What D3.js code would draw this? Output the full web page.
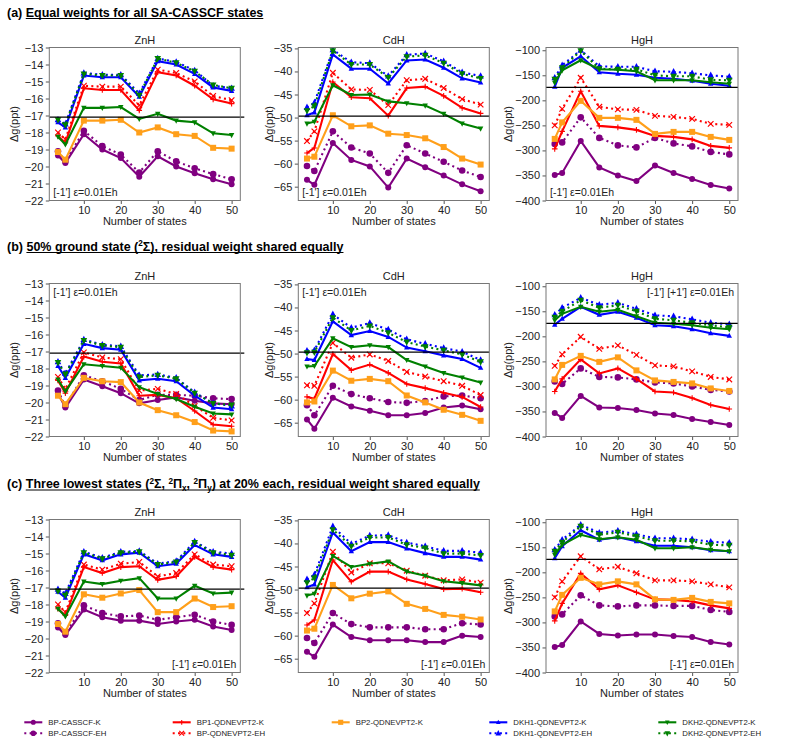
<!DOCTYPE html>
<html><head><meta charset="utf-8">
<script src="https://cdn.jsdelivr.net/npm/d3@7"></script>
<style>
body{margin:0;background:#fff;}
svg{display:block;font-family:"Liberation Sans",Arial,sans-serif;}
</style></head>
<body><svg id="c" width="793" height="742"></svg>
<script>
// ---------------- DATA ----------------
const nStates = [3,5,10,15,20,25,30,35,40,45,50];
const seriesNames = ["BP-CASSCF-K","BP-CASSCF-EH","BP1-QDNEVPT2-K","BP-QDNEVPT2-EH","BP2-QDNEVPT2-K","DKH1-QDNEVPT2-K","DKH1-QDNEVPT2-EH","DKH2-QDNEVPT2-K","DKH2-QDNEVPT2-EH"];
const molecules = ["ZnH","CdH","HgH"];
const yTicksZnH = [-13,-14,-15,-16,-17,-18,-19,-20,-21,-22];
const yTicksCdH = [-35,-40,-45,-50,-55,-60,-65];
const yTicksHgH = [-100,-150,-200,-250,-300,-350,-400];
const xTicks = [10,20,30,40,50];
const refValues = [-17.1,-49.7,-174];
const panelTitles = ["(a) |Equal weights for all SA-CASSCF states",
  "(b) |50% ground state (^2Σ), residual weight shared equally",
  "(c) |Three lowest states (^2Σ, ^2Π_x, ^2Π_y) at 20% each, residual weight shared equally"];
const annotations = [["[-1'] ε=0.01Eh","[-1'] ε=0.01Eh","[-1'] ε=0.01Eh"],
  ["[-1'] ε=0.01Eh","[-1'] ε=0.01Eh","[-1'] [+1'] ε=0.01Eh"],
  ["[-1'] ε=0.01Eh","[-1'] ε=0.01Eh","[-1'] ε=0.01Eh"]];

// series order: CASSCF-K, CASSCF-EH, BP1-K, BP-EH, BP2-K, DKH1-K, DKH1-EH, DKH2-K, DKH2-EH
const aZnH = [
 [-19.35,-19.8,-18.1,-19.0,-19.5,-20.6,-19.4,-20.0,-20.4,-20.75,-21.05],
 [-19.1,-19.7,-17.9,-18.8,-19.3,-20.35,-19.1,-19.7,-20.1,-20.45,-20.75],
 [-18.2,-18.6,-15.4,-15.5,-15.5,-16.7,-14.45,-14.65,-15.25,-16.05,-16.3],
 [-18.0,-18.4,-15.25,-15.3,-15.3,-16.4,-14.3,-14.5,-15.0,-15.85,-16.1],
 [-19.15,-19.6,-17.3,-17.3,-17.25,-18.0,-17.7,-18.1,-18.2,-18.9,-18.95],
 [-17.4,-17.7,-14.65,-14.75,-14.75,-15.9,-13.8,-14.0,-14.55,-15.35,-15.55],
 [-17.25,-17.5,-14.5,-14.6,-14.6,-15.7,-13.65,-13.85,-14.35,-15.25,-15.4],
 [-18.25,-18.7,-16.55,-16.55,-16.5,-17.2,-16.9,-17.3,-17.4,-18.05,-18.15],
 [-17.25,-17.55,-14.55,-14.65,-14.65,-15.8,-13.65,-13.9,-14.4,-15.2,-15.4]];
const aCdH = [
 [-63.5,-64.6,-55.5,-59.2,-60.6,-65.2,-58.9,-60.8,-62.6,-64.5,-66.0],
 [-60.5,-61.6,-53.0,-56.5,-57.8,-62.0,-56.0,-57.8,-59.6,-61.5,-62.9],
 [-57.7,-56.6,-42.3,-45.6,-45.8,-49.6,-43.6,-43.3,-45.3,-47.9,-49.1],
 [-55.1,-53.0,-40.3,-43.9,-44.0,-47.3,-41.9,-41.6,-43.6,-46.0,-47.2],
 [-58.9,-58.5,-49.5,-51.9,-51.7,-53.5,-53.8,-54.5,-56.4,-58.9,-60.2],
 [-49.5,-48.9,-36.3,-39.4,-39.4,-42.6,-37.6,-37.4,-39.2,-41.5,-42.4],
 [-47.8,-46.8,-35.3,-38.0,-38.2,-41.0,-36.4,-36.1,-37.8,-40.2,-41.0],
 [-51.3,-50.9,-43.0,-45.1,-45.0,-46.5,-46.9,-47.4,-49.2,-51.3,-52.4],
 [-48.5,-47.5,-35.5,-38.5,-38.5,-41.3,-36.8,-36.5,-38.2,-40.5,-41.5]];
const aHgH = [
 [-349,-345,-281,-334,-350,-361,-330,-345,-357,-369,-376],
 [-287,-284,-234,-275,-290,-294,-275,-286,-292,-303,-308],
 [-297,-262,-182,-251,-254,-259,-271,-273,-278,-291,-295],
 [-250,-217,-155,-213,-218,-219,-231,-233,-237,-247,-249],
 [-277,-244,-201,-235,-235,-239,-267,-263,-263,-273,-279],
 [-173,-135,-112,-144,-147,-149,-155,-157,-161,-167,-171],
 [-155,-130,-100,-132,-133,-133,-142,-143,-146,-150,-153],
 [-165,-140,-120,-138,-139,-142,-160,-160,-160,-164,-167],
 [-158,-135,-101,-137,-138,-138,-150,-152,-152,-159,-160]];
const bZnH = [
 [-19.45,-20.3,-18.65,-19.05,-19.45,-20.05,-19.85,-19.7,-19.9,-20.05,-20.1],
 [-19.3,-20.2,-18.4,-18.75,-19.2,-19.85,-19.55,-19.55,-19.6,-19.75,-19.8],
 [-18.7,-19.45,-17.3,-17.6,-17.7,-19.6,-19.55,-19.75,-20.5,-21.3,-21.4],
 [-18.5,-19.2,-17.05,-17.35,-17.45,-19.3,-19.2,-19.5,-20.2,-20.9,-21.05],
 [-19.6,-20.1,-18.55,-18.75,-18.8,-20.0,-20.45,-20.75,-21.15,-21.65,-21.7],
 [-17.85,-18.55,-16.55,-16.8,-16.9,-18.7,-18.6,-18.75,-19.6,-20.3,-20.4],
 [-17.6,-18.3,-16.3,-16.6,-16.7,-18.4,-18.35,-18.55,-19.4,-20.05,-20.2],
 [-18.65,-19.35,-17.75,-17.85,-17.95,-19.1,-19.5,-19.8,-20.25,-20.65,-20.7],
 [-17.65,-18.35,-16.35,-16.65,-16.75,-18.5,-18.4,-18.6,-19.45,-20.05,-20.15]];
const bCdH = [
 [-64.3,-66.3,-59.6,-61.5,-62.4,-63.4,-63.4,-62.9,-61.7,-61.3,-62.1],
 [-61.2,-63.4,-57.0,-58.8,-59.7,-60.5,-60.7,-60.3,-59.3,-59.1,-59.7],
 [-59.4,-59.8,-50.1,-53.6,-52.4,-54.2,-56.6,-57.5,-58.5,-59.4,-61.6],
 [-56.9,-57.0,-47.7,-50.9,-50.2,-51.6,-54.0,-55.0,-56.0,-57.0,-59.0],
 [-60.6,-60.4,-53.7,-55.9,-55.5,-56.0,-59.1,-60.6,-62.2,-63.3,-64.6],
 [-51.2,-51.4,-43.0,-46.0,-45.1,-46.4,-48.7,-49.5,-50.4,-51.2,-53.1],
 [-49.4,-49.3,-41.5,-44.4,-43.4,-44.8,-46.9,-47.9,-48.8,-49.6,-51.4],
 [-52.8,-52.7,-46.7,-48.6,-48.2,-48.6,-51.4,-52.8,-54.2,-55.2,-56.3],
 [-49.8,-49.7,-42.2,-45.0,-44.0,-45.5,-47.5,-48.5,-49.3,-50.2,-51.8]];
const bHgH = [
 [-353,-363,-319,-342,-343,-347,-354,-357,-365,-371,-377],
 [-290,-295,-264,-281,-282,-286,-292,-294,-300,-307,-310],
 [-310,-285,-246,-274,-264,-285,-310,-312,-323,-337,-345],
 [-259,-236,-201,-225,-218,-237,-258,-260,-270,-281,-286],
 [-286,-257,-239,-251,-242,-268,-288,-291,-294,-304,-309],
 [-177,-165,-141,-157,-151,-163,-178,-180,-186,-194,-199],
 [-157,-143,-123,-137,-133,-145,-158,-160,-166,-173,-176],
 [-168,-155,-141,-151,-147,-160,-173,-175,-178,-183,-186],
 [-162,-150,-128,-143,-138,-150,-165,-168,-173,-178,-182]];
const cZnH = [
 [-19.35,-19.8,-18.3,-18.75,-18.95,-18.95,-19.15,-19.0,-18.9,-19.3,-19.5],
 [-19.1,-19.7,-18.05,-18.5,-18.7,-18.65,-18.9,-18.75,-18.6,-19.0,-19.2],
 [-18.25,-18.65,-15.8,-16.15,-15.8,-15.75,-16.55,-16.35,-15.2,-15.8,-15.95],
 [-18.0,-18.45,-15.65,-15.95,-15.6,-15.5,-16.35,-16.15,-15.05,-15.65,-15.75],
 [-19.15,-19.6,-17.4,-17.6,-17.35,-17.15,-18.45,-18.45,-17.65,-18.15,-18.1],
 [-17.25,-17.6,-15.05,-15.4,-15.05,-14.95,-15.75,-15.6,-14.5,-15.05,-15.2],
 [-17.1,-17.35,-14.9,-15.25,-14.9,-14.85,-15.6,-15.45,-14.3,-14.9,-15.0],
 [-18.25,-18.7,-16.65,-16.8,-16.6,-16.45,-17.65,-17.65,-16.9,-17.35,-17.3],
 [-17.2,-17.45,-14.95,-15.3,-14.95,-14.9,-15.65,-15.5,-14.35,-14.95,-15.1]];
const cCdH = [
 [-63.5,-64.6,-57.6,-60.3,-61.0,-61.0,-61.0,-61.4,-61.4,-60.0,-60.3],
 [-60.5,-61.6,-55.1,-57.5,-58.2,-58.2,-58.2,-58.6,-58.6,-57.3,-57.6],
 [-57.7,-56.6,-43.6,-48.3,-46.1,-46.1,-47.8,-48.8,-49.9,-49.8,-50.6],
 [-55.1,-53.0,-41.8,-46.3,-44.3,-44.3,-45.9,-47.0,-48.0,-47.8,-48.5],
 [-58.9,-58.5,-49.0,-51.9,-50.9,-50.4,-53.1,-54.2,-55.5,-55.9,-56.5],
 [-49.5,-48.9,-37.6,-41.7,-39.7,-39.7,-41.1,-42.1,-42.9,-42.9,-43.5],
 [-47.8,-46.8,-36.3,-40.1,-38.3,-38.2,-39.8,-40.6,-41.6,-41.6,-42.0],
 [-51.3,-50.9,-42.7,-45.1,-44.4,-43.9,-46.1,-47.0,-48.2,-48.6,-49.1],
 [-48.5,-47.5,-37.0,-40.6,-38.7,-38.7,-40.3,-41.0,-42.2,-42.2,-42.6]];
const cHgH = [
 [-349,-345,-298,-323,-326,-324,-324,-327,-329,-339,-344],
 [-288,-284,-246,-266,-268,-266,-266,-267,-267,-275,-279],
 [-297,-262,-202,-234,-226,-240,-254,-255,-258,-266,-272],
 [-250,-218,-168,-194,-189,-202,-216,-216,-218,-224,-230],
 [-278,-245,-211,-224,-218,-224,-254,-255,-251,-259,-262],
 [-172,-148,-116,-135,-130,-138,-147,-147,-150,-156,-158],
 [-155,-135,-105,-121,-117,-124,-132,-132,-134,-139,-141],
 [-165,-145,-125,-134,-130,-135,-152,-152,-150,-155,-158],
 [-158,-140,-108,-125,-120,-128,-137,-137,-138,-145,-146]];

// ---------------- STYLE / LAYOUT ----------------
const panelData = [[aZnH,aCdH,aHgH],[bZnH,bCdH,bHgH],[cZnH,cCdH,cHgH]];
const yTickSets = [yTicksZnH,yTicksCdH,yTicksHgH];
const yDomains = [[-22,-13],[-68,-34.8],[-400,-94.5]];
const colLeft = [49.3,298.3,546], colW = [191,191,192];
const rowTop = [47.5,283.5,519.5], rowH = 153;
const ylabOff = [35,29,38];
const titleY = [16.5,250.5,488];
const annPos = [["bl","bl","bl"],["tl","tl","tr"],["br","br","br"]];
const titleFont = "'Liberation Sans', Arial, sans-serif";
const titleSize = 12.5;

const styles = [
 {c:"#800080",dash:null,m:"circle",s:3.0},
 {c:"#800080",dash:"2,3.3",m:"circle",s:3.3},
 {c:"#ff0000",dash:null,m:"plus",s:2.8},
 {c:"#ff0000",dash:"2,3.3",m:"x",s:2.8},
 {c:"#ff9f1a",dash:null,m:"square",s:3.0},
 {c:"#0000ff",dash:null,m:"tri",s:2.7},
 {c:"#0000ff",dash:"2,3.3",m:"tri",s:3.3},
 {c:"#008000",dash:null,m:"tridown",s:2.7},
 {c:"#008000",dash:"2,3.3",m:"tridown",s:3.3}];
const drawOrder = [0,1,2,3,4,5,6,7,8];

const svg = d3.select("#c");

function drawMarker(g, type, x, y, s, col){
  if(type==="circle"){ g.append("circle").attr("cx",x).attr("cy",y).attr("r",s).attr("fill",col); }
  else if(type==="square"){ g.append("rect").attr("x",x-s).attr("y",y-s).attr("width",2*s).attr("height",2*s).attr("fill",col); }
  else if(type==="tri"){ g.append("path").attr("d",`M${x},${y-s*1.15}L${x+s},${y+s*0.75}L${x-s},${y+s*0.75}Z`).attr("fill",col); }
  else if(type==="tridown"){ g.append("path").attr("d",`M${x},${y+s*1.15}L${x+s},${y-s*0.75}L${x-s},${y-s*0.75}Z`).attr("fill",col); }
  else if(type==="plus"){ g.append("path").attr("d",`M${x-s},${y}H${x+s}M${x},${y-s}V${y+s}`).attr("stroke",col).attr("stroke-width",1.1).attr("fill","none"); }
  else if(type==="x"){ g.append("path").attr("d",`M${x-s},${y-s}L${x+s},${y+s}M${x-s},${y+s}L${x+s},${y-s}`).attr("stroke",col).attr("stroke-width",1.2).attr("fill","none"); }
}

function drawTitle(str, y){
  const [pre, rest] = str.split("|");
  const t = svg.append("text").attr("x",7).attr("y",y).attr("font-size",titleSize).attr("font-weight","bold").attr("font-family",titleFont).attr("fill","#000");
  t.append("tspan").text(pre);
  const parts = [];
  let i=0, buf="";
  while(i<rest.length){
    const ch = rest[i];
    if(ch==="^"||ch==="_"){ if(buf){parts.push({t:buf,k:"n"});buf="";} parts.push({t:rest[i+1],k:ch}); i+=2; }
    else { buf+=ch; i++; }
  }
  if(buf) parts.push({t:buf,k:"n"});
  let state="n";
  parts.forEach(p=>{
    const ts = t.append("tspan").text(p.t);
    if(p.k==="^"){ ts.attr("font-size",8.2).attr("dy",-4.5); state="^"; }
    else if(p.k==="_"){ ts.attr("font-size",8.2).attr("dy",2.8); state="_"; }
    else { if(state==="^") ts.attr("dy",4.5); else if(state==="_") ts.attr("dy",-2.8); state="n"; }
  });
  const tmp = svg.append("text").attr("font-size",titleSize).attr("font-weight","bold").attr("font-family",titleFont).attr("x",0).attr("y",-50).text(pre.replace(/ $/,"\u00a0"));
  const preW = tmp.node().getComputedTextLength(); tmp.remove();
  const totW = t.node().getComputedTextLength();
  svg.append("line").attr("x1",7+preW).attr("x2",7+totW).attr("y1",y+2).attr("y2",y+2).attr("stroke","#000").attr("stroke-width",1.1);
}

for(let r=0;r<3;r++){
  drawTitle(panelTitles[r], titleY[r]);
  for(let c=0;c<3;c++){
    const L=colLeft[c], T=rowTop[r], W=colW[c], H=rowH;
    const x = d3.scaleLinear().domain([0.65,52.35]).range([L,L+W]);
    const y = d3.scaleLinear().domain(yDomains[c]).range([T+H,T]);
    const g = svg.append("g");
    const ya = d3.axisLeft(y).tickValues(yTickSets[c]).tickSize(3.5).tickPadding(2.5).tickFormat(d3.format("d"));
    const gy = g.append("g").attr("transform",`translate(${L},0)`).call(ya);
    const xa = d3.axisBottom(x).tickValues(xTicks).tickSize(3.5).tickPadding(2).tickFormat(d3.format("d"));
    const gx = g.append("g").attr("transform",`translate(0,${T+H})`).call(xa);
    [gx,gy].forEach(a=>{ a.select(".domain").remove(); a.selectAll("line").attr("stroke","#555");
      a.selectAll("text").attr("font-size",11).attr("fill","#222").attr("font-family","Liberation Sans, Arial, sans-serif"); });
    const cid = `clip${r}${c}`;
    svg.append("clipPath").attr("id",cid).append("rect").attr("x",L).attr("y",T).attr("width",W).attr("height",H);
    const pg = g.append("g").attr("clip-path",`url(#${cid})`);
    g.append("line").attr("x1",L).attr("x2",L+W+(c===0?4:0)).attr("y1",y(refValues[c])).attr("y2",y(refValues[c])).attr("stroke","#000").attr("stroke-width",1.3);
    const data = panelData[r][c];
    drawOrder.forEach(si=>{
      const st = styles[si];
      const pts = nStates.map((n,k)=>[n,data[si][k]]);
      const line = d3.line().x(d=>x(d[0])).y(d=>y(d[1]));
      const p = pg.append("path").attr("d",line(pts)).attr("fill","none").attr("stroke",st.c).attr("stroke-width",2.1);
      if(st.dash) p.attr("stroke-dasharray",st.dash);
      pts.forEach(d=>drawMarker(pg, st.m, x(d[0]), y(d[1]), st.s, st.c));
    });
    g.append("rect").attr("x",L).attr("y",T).attr("width",W).attr("height",H).attr("fill","none").attr("stroke","#777").attr("stroke-width",1);
    g.append("text").attr("x",L+W/2).attr("y",T-4).attr("text-anchor","middle").attr("font-size",11).attr("fill","#222").text(molecules[c]);
    g.append("text").attr("x",L+W/2).attr("y",T+H+24.5).attr("text-anchor","middle").attr("font-size",11).attr("fill","#222").text("Number of states");
    g.append("text").attr("transform",`translate(${L-ylabOff[c]},${T+H/2}) rotate(-90)`).attr("text-anchor","middle").attr("dy","0.35em").attr("font-size",11).attr("fill","#222").text("Δg(ppt)");
    const pos = annPos[r][c];
    const ax = pos[1]==="l" ? L+4 : L+W-4;
    const ay = pos[0]==="b" ? T+H-4.5 : T+12.5;
    g.append("text").attr("x",ax).attr("y",ay).attr("text-anchor",pos[1]==="l"?"start":"end").attr("font-size",10.5).attr("fill","#222").text(annotations[r][c]);
  }
}

// legend
const legCols = [[0,1],[2,3],[4],[5,6],[7,8]];
const legX = [24.3,172.7,331.7,489.3,658.3];
const legY = [722.3,733.3];
legCols.forEach((col,ci)=>{
  col.forEach((si,ri)=>{
    const st = styles[si];
    const lg = svg.append("g");
    const x0 = legX[ci], yy = legY[ri];
    const l = lg.append("line").attr("x1",x0).attr("x2",x0+18).attr("y1",yy).attr("y2",yy).attr("stroke",st.c).attr("stroke-width",2.1);
    if(st.dash) l.attr("stroke-dasharray",st.dash);
    drawMarker(lg, st.m, x0+9, yy, st.s*0.85, st.c);
    lg.append("text").attr("x",x0+24).attr("y",yy).attr("dy","0.35em").attr("font-size",7.8).attr("fill","#222").text(seriesNames[si]);
  });
});
</script></body></html>
